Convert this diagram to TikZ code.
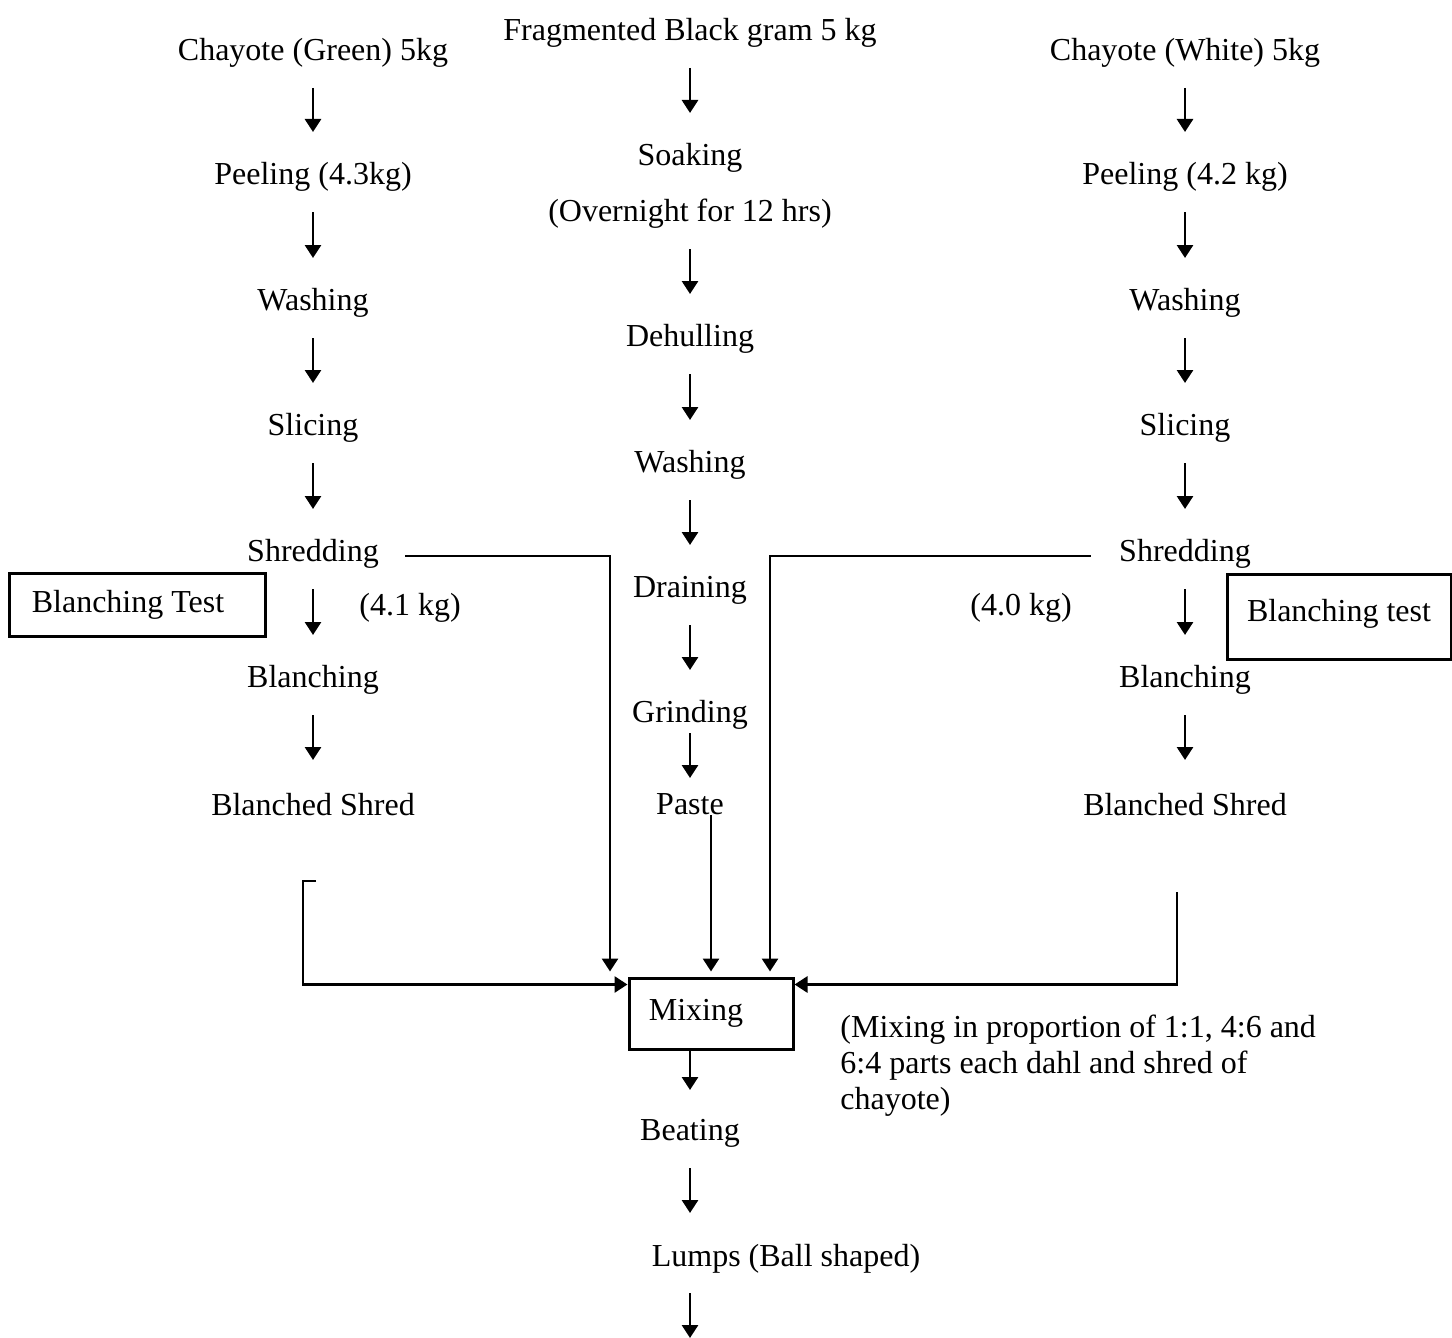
\documentclass[tikz,border=0pt]{standalone}
\usepackage{fontspec}
\setmainfont{Liberation Serif}
\usetikzlibrary{arrows.meta}
\begin{document}
\begin{tikzpicture}[x=0.5pt,y=-0.5pt,
  every node/.style={font=\fontsize{16}{18}\selectfont, inner sep=0pt},
  tx/.style={yshift=-1.5pt},
  arr/.style={line width=1.4pt, -{Triangle[length=6.5pt,width=8pt]}},
  col/.style={arr, shorten <=17.5pt, shorten >=22.5pt},
  boxed/.style={draw, line width=1.5pt}]
\useasboundingbox (0,0) rectangle (1452,1338);

% left column
\node[tx] (g0) at (313,50) {Chayote (Green) 5kg};
\node[tx] (g1) at (313,174) {Peeling (4.3kg)};
\node[tx] (g2) at (313,300) {Washing};
\node[tx] (g3) at (313,425) {Slicing};
\node[tx] (g4) at (313,551) {Shredding};
\node[tx] (g5) at (313,677) {Blanching};
\node[tx] (g6) at (313,802) {Blanched Shred};
\node[tx] (gw) at (410,605) {(4.1 kg)};
\node[boxed, minimum width=128pt, minimum height=31.5pt] (btL) at (137,604.5) {Blanching Test\kern9pt};

% middle column
\node[tx] (m0) at (690,30) {Fragmented Black gram 5 kg};
\node[tx] (m1) at (690,155) {Soaking};
\node[tx] (m2) at (690,211) {(Overnight for 12 hrs)};
\node[tx] (m3) at (690,336) {Dehulling};
\node[tx] (m4) at (690,462) {Washing};
\node[tx] (m5) at (690,587) {Draining};
\node[tx] (m6) at (690,712) {Grinding};
\node[tx] (m7) at (690,801) {Paste};

% right column
\node[tx] (r0) at (1185,50) {Chayote (White) 5kg};
\node[tx] (r1) at (1185,174) {Peeling (4.2 kg)};
\node[tx] (r2) at (1185,300) {Washing};
\node[tx] (r3) at (1185,425) {Slicing};
\node[tx] (r4) at (1185,551) {Shredding};
\node[tx] (r5) at (1185,677) {Blanching};
\node[tx] (r6) at (1185,802) {Blanched Shred};
\node[tx] (rw) at (1021,605) {(4.0 kg)};
\node[boxed, minimum width=112pt, minimum height=42.5pt] (btR) at (1339,616.5) {\raisebox{6pt}{Blanching test}};

% bottom
\node[boxed, minimum width=82pt, minimum height=35.5pt] (mix) at (711,1013.5) {\raisebox{-1pt}{Mixing}\kern15pt};
\node[anchor=north west, align=left] (note) at (840,1015) {(Mixing in proportion of 1:1, 4:6 and\\6:4 parts each dahl and shred of\\chayote)};
\node[tx] (be) at (690,1130) {Beating};
\node[tx] (lu) at (786,1256) {Lumps (Ball shaped)};
\coordinate (endc) at (690,1338);
\coordinate (bl) at (316,881);
\coordinate (br) at (1177,892);

% column arrows
\foreach \a/\b in {g0/g1,g1/g2,g2/g3,g3/g4,g4/g5,g5/g6,
                   r0/r1,r1/r2,r2/r3,r3/r4,r4/r5,r5/r6,
                   m0/m1,m2/m3,m3/m4,m4/m5,m5/m6}
  \draw[col] (\a.center) -- (\b.center);
\draw[arr, shorten <=9pt, shorten >=13pt] (m6.center) -- (m7.center);

% into mixing
\draw[arr, shorten >=2.5pt] ([xshift=13pt,yshift=-1pt]g4.east) -| ([xshift=-50.5pt]mix.north);
\draw[arr, shorten >=2.5pt] ([xshift=-14pt,yshift=-1pt]r4.west) -| ([xshift=29.5pt]mix.north);
\draw[arr, shorten >=2.5pt] (m7.south -| mix.north) -- (mix.north);
\draw[arr] (bl) -- ++(-13,0) |- ([yshift=-4pt]mix.north west);
\draw[arr] (br) |- ([yshift=-4pt]mix.north east);

% after mixing
\draw[arr, shorten >=21.5pt] (mix.south -| be.center) -- (be.center);
\draw[arr, shorten <=17.5pt, shorten >=23pt] (be.center) -- (be.center |- lu.center);
\draw[arr, shorten <=17pt] (lu.center -| endc) -- (endc);
\end{tikzpicture}
\end{document}
